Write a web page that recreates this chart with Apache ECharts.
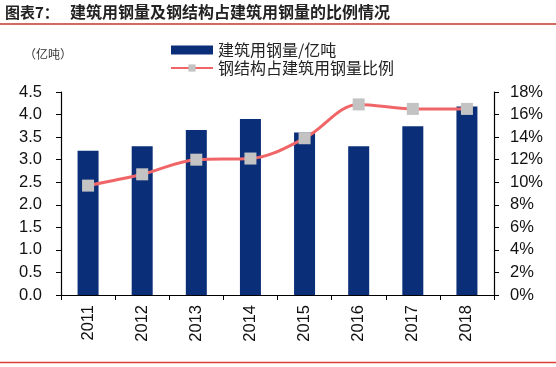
<!DOCTYPE html>
<html>
<head>
<meta charset="utf-8">
<script src="https://cdn.jsdelivr.net/npm/echarts@6/dist/echarts.min.js"></script>
<style>html,body{margin:0;padding:0;background:#fff;}#c{width:556px;height:367px;}</style>
</head>
<body>
<div id="c"></div>
<script>
var years = ['2011','2012','2013','2014','2015','2016','2017','2018'];
var steelUse = [3.2, 3.3, 3.66, 3.9, 3.6, 3.3, 3.74, 4.18];
var structRatio = [9.7, 10.7, 12.0, 12.1, 13.9, 16.9, 16.5, 16.5];
var leftTicks = {min: 0, max: 4.5, interval: 0.5};
var rightTicks = {min: 0, max: 18, interval: 2};
var barName = '建筑用钢量/亿吨';
var lineName = '钢结构占建筑用钢量比例';

var chart = echarts.init(document.getElementById('c'));
var axisLbl = {color: '#111', fontSize: 16.5, fontFamily: 'Liberation Sans, Arial, sans-serif'};
chart.setOption({
  animation: false,
  backgroundColor: '#fff',
  graphic: [
    {type: 'text', left: 5, top: 5, style: {text: '图表7：', font: 'bold 15px "Noto Sans CJK SC"', fill: '#222'}},
    {type: 'text', left: 70, top: 4, style: {text: '建筑用钢量及钢结构占建筑用钢量的比例情况', font: 'bold 16px "Noto Sans CJK SC"', fill: '#222'}},
    {type: 'line', shape: {x1: 0, y1: 24, x2: 556, y2: 24}, style: {stroke: '#c0392b', lineWidth: 1.5}},
    {type: 'line', shape: {x1: 0, y1: 362.5, x2: 556, y2: 362.5}, style: {stroke: '#d9403a', lineWidth: 1.5}},
    {type: 'text', left: 24, top: 48, style: {text: '（亿吨）', font: '12px "Noto Sans CJK SC"', fill: '#333'}}
  ],
  legend: {
    orient: 'vertical', left: 170, top: 42, padding: 0, itemWidth: 42, itemHeight: 9, itemGap: 2,
    textStyle: {fontSize: 16, color: '#222', fontFamily: 'Noto Sans CJK SC'},
    data: [{name: barName, icon: 'rect'}, {name: lineName}]
  },
  grid: {left: 61, right: 62, top: 92, bottom: 72},
  xAxis: {
    type: 'category', data: years, boundaryGap: true,
    axisLine: {lineStyle: {color: '#000', width: 1.2}},
    axisTick: {show: true, length: 5, lineStyle: {color: '#000'}},
    axisLabel: Object.assign({rotate: 90, margin: 10}, axisLbl)
  },
  yAxis: [
    {type: 'value', min: leftTicks.min, max: leftTicks.max, interval: leftTicks.interval,
     axisLine: {show: true, lineStyle: {color: '#000', width: 1.2}},
     axisTick: {show: true, length: 5, lineStyle: {color: '#000'}},
     splitLine: {show: false},
     axisLabel: Object.assign({formatter: function(v){return v.toFixed(1);}, margin: 19}, axisLbl)},
    {type: 'value', min: rightTicks.min, max: rightTicks.max, interval: rightTicks.interval, position: 'right',
     axisLine: {show: true, lineStyle: {color: '#000', width: 1.2}},
     axisTick: {show: true, length: 5, lineStyle: {color: '#000'}},
     splitLine: {show: false},
     axisLabel: Object.assign({formatter: '{value}%', margin: 16}, axisLbl)}
  ],
  series: [
    {name: barName, type: 'bar', data: steelUse, yAxisIndex: 0, barWidth: 21,
     itemStyle: {color: '#0a2f78'}},
    {name: lineName, type: 'line', data: structRatio, yAxisIndex: 1, smooth: 0.35,
     symbol: 'rect', symbolSize: 12,
     lineStyle: {color: '#f06668', width: 3},
     itemStyle: {color: '#c3c3c3', borderWidth: 0}}
  ]
});
</script>
</body>
</html>
